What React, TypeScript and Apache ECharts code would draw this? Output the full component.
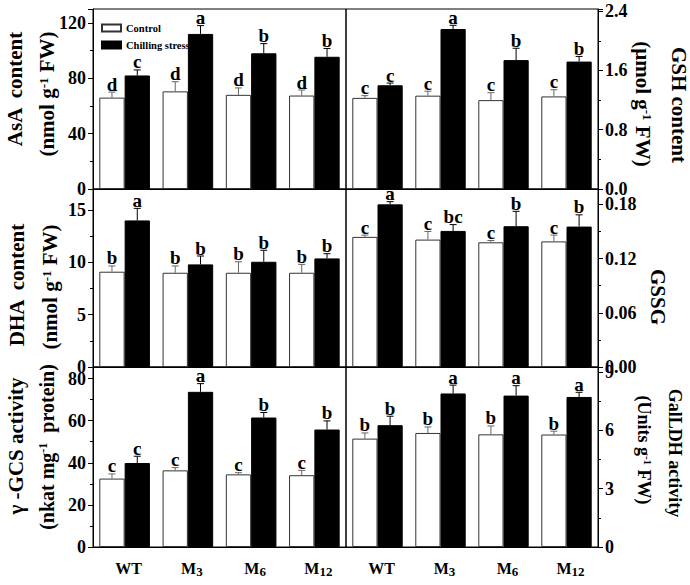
import React, { useEffect, useRef } from 'react';
import * as echarts from 'echarts';

const FONT = '"Liberation Serif", "Times New Roman", serif';

// Categories
const categories = ['WT', 'M3', 'M6', 'M12'];

// AsA content (nmol g-1 FW)
const asaControl = [66, 70.5, 68, 67.5];
const asaControlErr = [4, 7, 5, 4];
const asaChill = [82, 112, 98, 95.5];
const asaChillErr = [4, 6, 7, 6];
const asaControlLetters = ['d', 'd', 'd', 'd'];
const asaChillLetters = ['c', 'a', 'b', 'b'];

// GSH content (umol g-1 FW)
const gshControl = [1.23, 1.26, 1.2, 1.25];
const gshControlErr = [0.03, 0.06, 0.1, 0.09];
const gshChill = [1.4, 2.16, 1.74, 1.72];
const gshChillErr = [0.03, 0.05, 0.16, 0.07];
const gshControlLetters = ['c', 'c', 'c', 'c'];
const gshChillLetters = ['c', 'a', 'b', 'b'];

// DHA content (nmol g-1 FW)
const dhaControl = [9.1, 9.0, 9.0, 9.0];
const dhaControlErr = [0.55, 0.65, 1.05, 0.8];
const dhaChill = [14.0, 9.8, 10.05, 10.37];
const dhaChillErr = [1.15, 0.8, 1.1, 0.45];
const dhaControlLetters = ['b', 'b', 'b', 'b'];
const dhaChillLetters = ['a', 'b', 'b', 'b'];

// GSSG
const gssgControl = [0.144, 0.141, 0.138, 0.139];
const gssgControlErr = [0.002, 0.009, 0.002, 0.007];
const gssgChill = [0.18, 0.1506, 0.1558, 0.1554];
const gssgChillErr = [0.003, 0.007, 0.0165, 0.013];
const gssgControlLetters = ['c', 'c', 'c', 'c'];
const gssgChillLetters = ['a', 'bc', 'b', 'b'];

// gamma-GCS activity (nkat mg-1 protein)
const gcsControl = [32.5, 36.4, 34.5, 34.1];
const gcsControlErr = [2.2, 1.3, 0.8, 2.3];
const gcsChill = [39.9, 73.7, 61.5, 55.8];
const gcsChillErr = [3.2, 3.9, 2.4, 4.1];
const gcsControlLetters = ['c', 'c', 'c', 'c'];
const gcsChillLetters = ['c', 'a', 'b', 'b'];

// GalLDH activity (Units g-1 FW)
const galControl = [5.57, 5.86, 5.79, 5.78];
const galControlErr = [0.29, 0.31, 0.43, 0.17];
const galChill = [6.26, 7.89, 7.78, 7.71];
const galChillErr = [0.46, 0.43, 0.51, 0.24];
const galControlLetters = ['b', 'b', 'b', 'b'];
const galChillLetters = ['b', 'a', 'a', 'a'];

// Axis settings
const axisMax = [130, 2.43, 17, 0.197, 85.5, 9.25];
const axisInterval = [40, 0.8, 5, 0.06, 20, 3];
const axisDigits = [0, 1, 0, 2, 0, 0];

const panels = [
  { c: asaControl, ce: asaControlErr, h: asaChill, he: asaChillErr, cl: asaControlLetters, hl: asaChillLetters },
  { c: gshControl, ce: gshControlErr, h: gshChill, he: gshChillErr, cl: gshControlLetters, hl: gshChillLetters },
  { c: dhaControl, ce: dhaControlErr, h: dhaChill, he: dhaChillErr, cl: dhaControlLetters, hl: dhaChillLetters },
  { c: gssgControl, ce: gssgControlErr, h: gssgChill, he: gssgChillErr, cl: gssgControlLetters, hl: gssgChillLetters },
  { c: gcsControl, ce: gcsControlErr, h: gcsChill, he: gcsChillErr, cl: gcsControlLetters, hl: gcsChillLetters },
  { c: galControl, ce: galControlErr, h: galChill, he: galChillErr, cl: galControlLetters, hl: galChillLetters },
];

const gridBoxes = [
  { left: 93, top: 9, width: 253, height: 180 },
  { left: 346, top: 9, width: 252, height: 180 },
  { left: 93, top: 189, width: 253, height: 178 },
  { left: 346, top: 189, width: 252, height: 178 },
  { left: 93, top: 367, width: 253, height: 180 },
  { left: 346, top: 367, width: 252, height: 180 },
];

function errSeries(gi: number, vals: number[], errs: number[], letters: string[], sign: number, color: string) {
  return {
    type: 'custom',
    xAxisIndex: gi,
    yAxisIndex: gi,
    z: 5,
    data: vals.map((v, i) => [i, v, errs[i]]),
    encode: { x: 0, y: 1 },
    renderItem: (params: any, api: any) => {
      const i = api.value(0);
      const v = api.value(1);
      const e = api.value(2);
      const band = api.size([1, 0])[0];
      const base = api.coord([i, v]);
      const top = api.coord([i, v + e]);
      const x = base[0] + sign * band * 0.2;
      return {
        type: 'group',
        children: [
          { type: 'line', shape: { x1: x, y1: base[1], x2: x, y2: top[1] }, style: { stroke: color, lineWidth: 1 } },
          { type: 'line', shape: { x1: x - 3.5, y1: top[1], x2: x + 3.5, y2: top[1] }, style: { stroke: color, lineWidth: 1 } },
          {
            type: 'text',
            x: x,
            y: top[1] + 1.5,
            style: {
              text: letters[i],
              fill: '#000',
              fontFamily: FONT,
              fontWeight: 'bold',
              fontSize: 19,
              align: 'center',
              verticalAlign: 'bottom',
            },
          },
        ],
      };
    },
  };
}

function titleText(x: number, y: number, rot: number, text: string, size: number) {
  return {
    type: 'text',
    x,
    y,
    rotation: rot,
    style: {
      text,
      align: 'center',
      verticalAlign: 'middle',
      rich: {
        t: { fontFamily: FONT, fontWeight: 'bold', fontSize: size, lineHeight: size, fill: '#000' },
        s: { fontFamily: FONT, fontWeight: 'bold', fontSize: Math.round(size * 0.6), lineHeight: 9, verticalAlign: 'top', fill: '#000' },
      },
    },
  };
}

export default function App() {
  const ref = useRef<HTMLDivElement>(null);
  useEffect(() => {
    if (!ref.current) return;
    const chart = echarts.init(ref.current, null, { renderer: 'svg' });
    const series: any[] = [];
    panels.forEach((p, gi) => {
      series.push({
        type: 'bar', name: 'Control', xAxisIndex: gi, yAxisIndex: gi, data: p.c,
        barWidth: '40%', barGap: '0%',
        itemStyle: { color: '#fff', borderColor: '#333', borderWidth: 1 },
      });
      series.push({
        type: 'bar', name: 'Chilling stress', xAxisIndex: gi, yAxisIndex: gi, data: p.h,
        barWidth: '40%', barGap: '0%',
        itemStyle: { color: '#000', borderColor: '#000', borderWidth: 1 },
      });
      series.push(errSeries(gi, p.c, p.ce, p.cl, -1, '#666'));
      series.push(errSeries(gi, p.h, p.he, p.hl, 1, '#000'));
    });

    const axisLineStyle = { color: '#000', width: 1 };
    const option: any = {
      animation: false,
      backgroundColor: '#fff',
      grid: gridBoxes.map((g) => ({ ...g, show: true, borderColor: '#000', borderWidth: 1, backgroundColor: 'transparent', containLabel: false })),
      legend: {
        left: 96,
        top: 17,
        orient: 'vertical',
        itemWidth: 19,
        itemHeight: 7,
        itemGap: 5,
        icon: 'rect',
        z: 10,
        data: ['Control', 'Chilling stress'],
        textStyle: { fontFamily: FONT, fontWeight: 'bold', fontSize: 10.5, color: '#000', lineHeight: 12 },
        selectedMode: false,
      },
      xAxis: gridBoxes.map((g, gi) => ({
        gridIndex: gi,
        type: 'category',
        data: categories,
        axisLine: { show: true, lineStyle: axisLineStyle },
        axisTick: { show: false },
        axisLabel: {
          show: gi >= 4,
          interval: 0,
          hideOverlap: false,
          margin: 11,
          padding: [0, 0, 0, 8],
          formatter: (v: string) => (v === 'WT' ? '{m|WT}' : '{m|M}{s|' + v.slice(1) + '}'),
          rich: {
            m: { fontFamily: FONT, fontWeight: 'bold', fontSize: 16, lineHeight: 20, color: '#000' },
            s: { fontFamily: FONT, fontWeight: 'bold', fontSize: 13, lineHeight: 10, verticalAlign: 'bottom', color: '#000' },
          },
        },
      })),
      yAxis: gridBoxes.map((g, gi) => ({
        gridIndex: gi,
        type: 'value',
        position: gi % 2 === 0 ? 'left' : 'right',
        min: 0,
        max: axisMax[gi],
        interval: axisInterval[gi],
        axisLine: { show: true, lineStyle: axisLineStyle },
        axisTick: { show: true, inside: false, length: 5, lineStyle: axisLineStyle },
        minorTick: { show: true, splitNumber: 2, length: 3, lineStyle: axisLineStyle },
        splitLine: { show: false },
        minorSplitLine: { show: false },
        axisLabel: {
          color: '#000',
          fontFamily: FONT,
          fontWeight: 'bold',
          fontSize: 18,
          margin: 7,
          showMaxLabel: false,
          formatter: (v: number) => v.toFixed(axisDigits[gi]),
        },
      })),
      graphic: [
        titleText(15, 89, Math.PI / 2, '{t|AsA  content}', 21),
        titleText(47, 94, Math.PI / 2, '{t|(nmol g}{s|-1}{t| FW)}', 21),
        titleText(679, 105, -Math.PI / 2, '{t|GSH content}', 21),
        titleText(643, 104, -Math.PI / 2, '{t|(μmol g}{s|-1}{t| FW)}', 21),
        titleText(17, 285, Math.PI / 2, '{t|DHA  content}', 21),
        titleText(50, 287, Math.PI / 2, '{t|(nmol g}{s|-1}{t| FW)}', 21),
        titleText(658, 297, -Math.PI / 2, '{t|GSSG}', 21),
        titleText(16, 446, Math.PI / 2, '{t|γ -GCS activity}', 21),
        titleText(47, 447, Math.PI / 2, '{t|(nkat mg}{s|-1}{t|  protein)}', 20),
        titleText(675, 453, -Math.PI / 2, '{t|GalLDH activity}', 18),
        titleText(644, 450, -Math.PI / 2, '{t|(Units g}{s|-1}{t| FW)}', 18),
      ],
      series,
    };
    chart.setOption(option);
    return () => chart.dispose();
  }, []);
  return <div ref={ref} style={{ position: 'absolute', left: 0, top: 0, width: 690, height: 585, background: '#fff' }} />;
}
